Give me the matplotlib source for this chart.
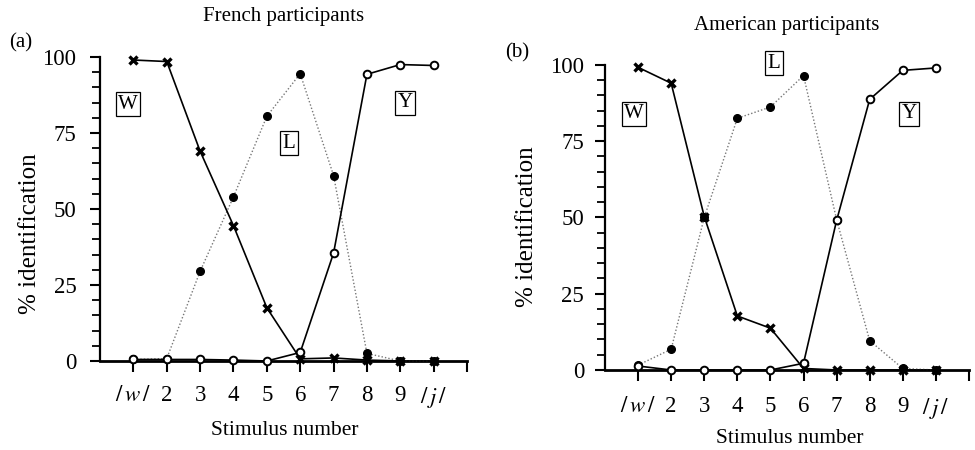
import matplotlib.pyplot as plt
from matplotlib.ticker import MultipleLocator

# Data
stimuli = ["/w/", "2", "3", "4", "5", "6", "7", "8", "9", "/j/"]
positions = list(range(1, 11))

french_w = [99, 98.5, 69, 44.5, 17.5, 0.7, 1.0, 0.3, 0, 0]
french_l = [0.5, 0.8, 29.5, 54, 80.5, 94.5, 61, 2.5, 0, 0]
french_y = [0.5, 0.5, 0.5, 0.3, 0, 2.8, 35.5, 94.3, 97.5, 97.2]

american_w = [99.2, 94, 50.3, 17.7, 13.7, 0.5, 0, 0, 0, 0]
american_l = [1.6, 6.8, 50, 82.5, 86.2, 96.5, 49.3, 9.6, 0.5, 0]
american_y = [1.3, 0, 0, 0, 0, 2.2, 49, 88.7, 98.2, 99]

plt.rcParams['font.family'] = ['Liberation Serif', 'DejaVu Serif']
plt.rcParams['mathtext.fontset'] = 'stix'

fig = plt.figure(figsize=(9.75, 4.5), dpi=100)
ax_a = fig.add_axes([0.1026, 0.1978, 0.3764, 0.6756])
ax_b = fig.add_axes([0.6205, 0.1778, 0.3733, 0.678])


def draw_panel(ax, w, l, y, title, tag, boxes, ylab_xy, xlab_xy, tag_xy, title_y, xpad, ypad):
    ax.plot(positions, l, color='#777777', linestyle=(0, (1, 1.5)), linewidth=1.0,
            marker='o', markersize=5.5, markerfacecolor='black', markeredgecolor='black',
            clip_on=False, zorder=3)
    ax.plot(positions, w, color='black', linewidth=1.2, marker='x', markersize=5.5,
            markeredgewidth=2.4, clip_on=False, zorder=4)
    ax.plot(positions, y, color='black', linewidth=1.2, marker='o', markersize=5.5,
            markerfacecolor='white', markeredgecolor='black', markeredgewidth=1.4,
            clip_on=False, zorder=5)

    ax.set_xlim(0, 11)
    ax.set_ylim(0, 100)
    ax.set_xticks(positions + [11])
    ax.set_xticklabels([r"$\mathit{/\,w\,/}$"] + stimuli[1:-1] + [r"$\mathit{/\,j\,/}$", ""])
    ax.set_yticks([0, 25, 50, 75, 100])
    ax.yaxis.set_minor_locator(MultipleLocator(5))
    ax.tick_params(axis='x', direction='out', length=8, width=1.5, pad=xpad, labelsize=16.5)
    ax.tick_params(axis='y', which='major', direction='out', length=7, width=1.5, pad=ypad, labelsize=16.5)
    ax.tick_params(axis='y', which='minor', direction='out', length=6, width=1.3)

    for side in ['top', 'right']:
        ax.spines[side].set_visible(False)
    ax.spines['bottom'].set_linewidth(2.0)
    ax.spines['left'].set_linewidth(1.6)

    ax.set_ylabel("% identification", fontsize=18, va='center')
    ax.yaxis.set_label_coords(*ylab_xy)
    ax.set_xlabel("Stimulus number", fontsize=15.5, va='center')
    ax.xaxis.set_label_coords(*xlab_xy)

    ax.text(0.5, title_y, title, transform=ax.transAxes, ha='center', va='center', fontsize=15)
    ax.text(tag_xy[0], tag_xy[1], tag, transform=ax.transAxes, ha='center', va='center', fontsize=15)

    for letter, bx, by in boxes:
        ax.text(bx, by, letter, ha='center', va='center', fontsize=15,
                bbox=dict(boxstyle='square,pad=0.12', facecolor='white', edgecolor='black', linewidth=0.9))


draw_panel(ax_a, french_w, french_l, french_y, "French participants", "(a)",
           [("W", 0.84, 84.5), ("L", 5.67, 71.7), ("Y", 9.15, 85)],
           (-0.19, 0.42), (0.504, -0.23), (-0.215, 1.046), 1.133, 9, 10)
draw_panel(ax_b, american_w, american_l, american_y, "American participants", "(b)",
           [("W", 0.88, 84), ("L", 5.11, 100.5), ("Y", 9.2, 84)],
           (-0.214, 0.47), (0.508, -0.223), (-0.24, 1.039), 1.13, 11, 8)

fig.savefig("out.png", dpi=100)
